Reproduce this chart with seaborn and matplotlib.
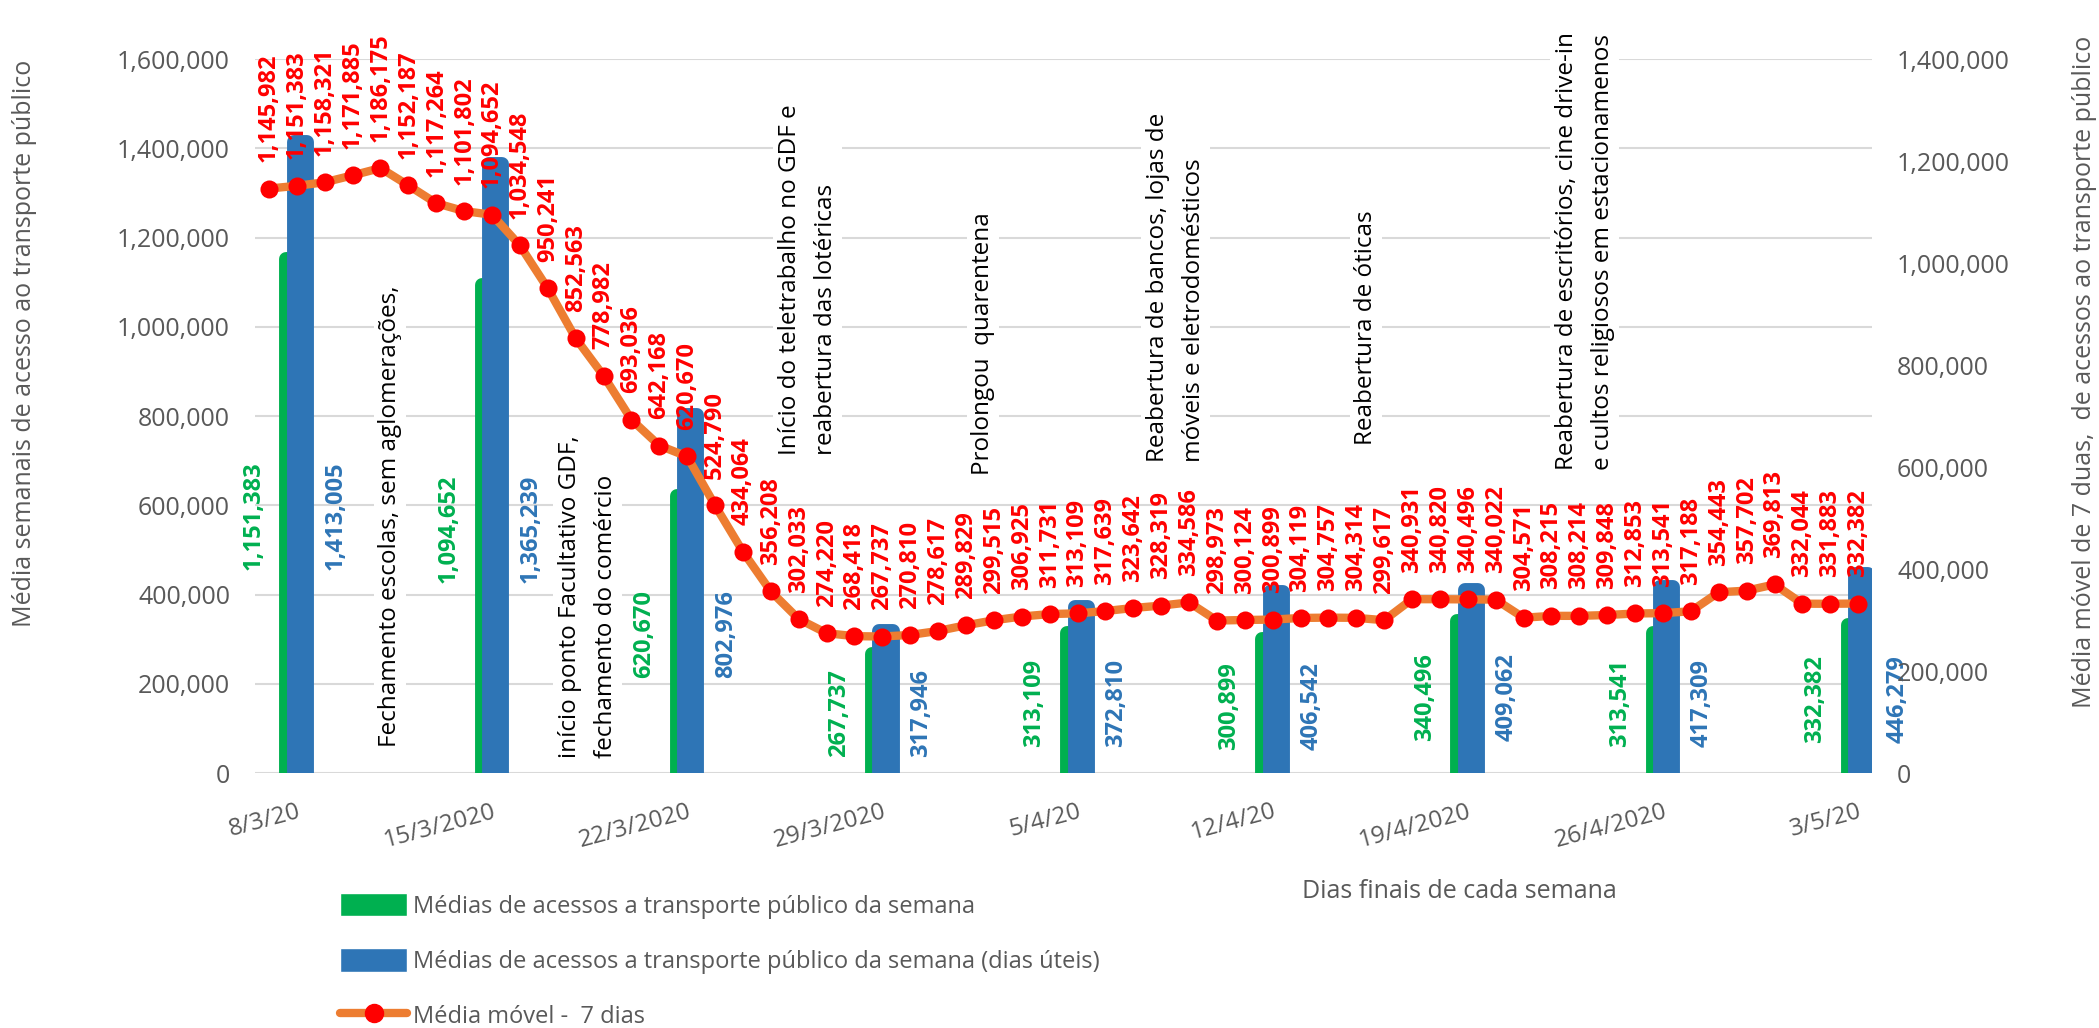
import numpy as np
import seaborn as sns
import matplotlib.pyplot as plt
from matplotlib.patches import Patch
from matplotlib.lines import Line2D
from matplotlib.ticker import FuncFormatter, MultipleLocator

# weekly bars (left axis)
week_labels = ['8/3/20', '15/3/2020', '22/3/2020', '29/3/2020', '5/4/20',
               '12/4/20', '19/4/2020', '26/4/2020', '3/5/20']
week_all = [1151383, 1094652, 620670, 267737, 313109, 300899, 340496, 313541, 332382]
week_util = [1413005, 1365239, 802976, 317946, 372810, 406542, 409062, 417309, 446279]

# 7-day moving average (right axis), one value per day
moving_avg = [1145982, 1151383, 1158321, 1171885, 1186175, 1152187, 1117264, 1101802,
              1094652, 1034548, 950241, 852563, 778982, 693036, 642168, 620670,
              524790, 434064, 356208, 302033, 274220, 268418, 267737, 270810,
              278617, 289829, 299515, 306925, 311731, 313109, 317639, 323642,
              328319, 334586, 298973, 300124, 300899, 304119, 304757, 304314,
              299617, 340931, 340820, 340496, 340022, 304571, 308215, 308214,
              309848, 312853, 313541, 317188, 354443, 357702, 369813, 332044,
              331883, 332382]

events = ['Fechamento escolas, sem aglomerações,',
          'início ponto Facultativo GDF,\nfechamento do comércio',
          'Início do teletrabalho no GDF e\nreabertura das lotéricas',
          'Prolongou  quarentena',
          'Reabertura de bancos, lojas de\nmóveis e eletrodomésticos',
          'Reabertura de óticas',
          'Reabertura de escritórios, cine drive-in\ne cultos religiosos em estacionamenos']
event_x = [4.34, 11.44, 19.33, 25.6, 32.53, 39.35, 47.2]
event_y = [58000, 34000, 712000, 668000, 697000, 735000, 679000]

GREEN = '#00B050'
BLUE = '#2E75B6'
ORANGE = '#ED7D31'
RED = '#FF0000'
GRAY = '#595959'

sns.set_theme(style='white')
plt.rcParams['font.family'] = ['Open Sans', 'DejaVu Sans']

fig = plt.figure(figsize=(20.99, 10.28), dpi=100)
ax = fig.add_axes([0.1215, 0.248, 0.7704, 0.6946])
ax2 = ax.twinx()

days = np.arange(len(moving_avg))
week_pos = days[1::7]

# thick round-joined edges give the soft rounded tops
sns.barplot(x=week_pos - 0.14, y=week_all, native_scale=True, width=0.47 / 7,
            color=GREEN, saturation=1, errorbar=None, ax=ax, zorder=2,
            edgecolor=GREEN, linewidth=10, joinstyle='round')
sns.barplot(x=week_pos + 0.13, y=week_util, native_scale=True, width=0.47 / 7,
            color=BLUE, saturation=1, errorbar=None, ax=ax, zorder=2,
            edgecolor=BLUE, linewidth=10, joinstyle='round')

for p, g, b in zip(week_pos, week_all, week_util):
    ax.text(p - 1.55, g / 2, f'{g:,}', rotation=90, ha='center', va='center',
            color=GREEN, fontsize=17, fontweight='bold', zorder=3)
    ax.text(p + 1.4, g / 2, f'{b:,}', rotation=90, ha='center', va='center',
            color=BLUE, fontsize=17, fontweight='bold', zorder=3)

for s, x, y in zip(events, event_x, event_y):
    ax.text(x, y, s, rotation=90, ha='center', va='bottom', multialignment='left',
            fontsize=17.5, color='black', linespacing=1.7, zorder=1.5,
            bbox=dict(facecolor='white', edgecolor='none', pad=3))

sns.lineplot(x=days, y=moving_avg, ax=ax2, color=ORANGE, linewidth=6,
             marker='o', markersize=13, markerfacecolor=RED,
             markeredgecolor=RED, markeredgewidth=0, zorder=3)
for d, v in zip(days, moving_avg):
    ax2.annotate(f'{v:,}', (d, v), xytext=(0, 19), textcoords='offset points',
                 rotation=90, ha='center', va='bottom', color=RED,
                 fontsize=17, fontweight='bold')

fmt = FuncFormatter(lambda v, _: f'{int(v):,}')
ax.set_ylim(0, 1600000)
ax2.set_ylim(0, 1400000)
for a in (ax, ax2):
    a.yaxis.set_major_locator(MultipleLocator(200000))
    a.yaxis.set_major_formatter(fmt)
    a.tick_params(axis='y', length=0, pad=18, labelsize=18, labelcolor=GRAY)
    for sp in a.spines.values():
        sp.set_visible(False)
ax2.grid(False)

ax.set_xlim(-0.5, len(moving_avg) - 0.5)
ax.set_xticks(week_pos)
ax.set_xticklabels(week_labels, rotation=15, ha='right', rotation_mode='anchor')
ax.tick_params(axis='x', length=0, pad=19, labelsize=17.5, labelcolor=GRAY)
ax.grid(axis='y', color='#D9D9D9', linewidth=1.5)
ax.set_axisbelow(True)

ax.set_xlabel('Dias finais de cada semana', fontsize=18, color=GRAY)
ax.xaxis.set_label_coords(0.745, -0.148)
ax.set_ylabel('Média semanais de acesso ao transporte público', fontsize=18, color=GRAY)
ax.yaxis.set_label_coords(-0.135, 0.602)
ax2.set_ylabel('Média móvel de 7 duas,  de acessos ao transporte público', fontsize=18, color=GRAY)
ax2.yaxis.set_label_coords(1.1237, 0.562)

handles = [Patch(facecolor=GREEN), Patch(facecolor=BLUE),
           Line2D([], [], color=ORANGE, lw=6, marker='o', ms=13, mfc=RED, mec=RED)]
labels = ['Médias de acessos a transporte público da semana',
          'Médias de acessos a transporte público da semana (dias úteis)',
          'Média móvel -  7 dias']
fig.legend(handles, labels, loc='upper left', bbox_to_anchor=(340 / 2099, 1 - 893 / 1028),
           frameon=False, fontsize=17, labelcolor=GRAY, handlelength=2.85,
           handleheight=1.15, handletextpad=0.25, labelspacing=1.25,
           borderaxespad=0, borderpad=0)

fig.savefig('out.png', dpi=100)
